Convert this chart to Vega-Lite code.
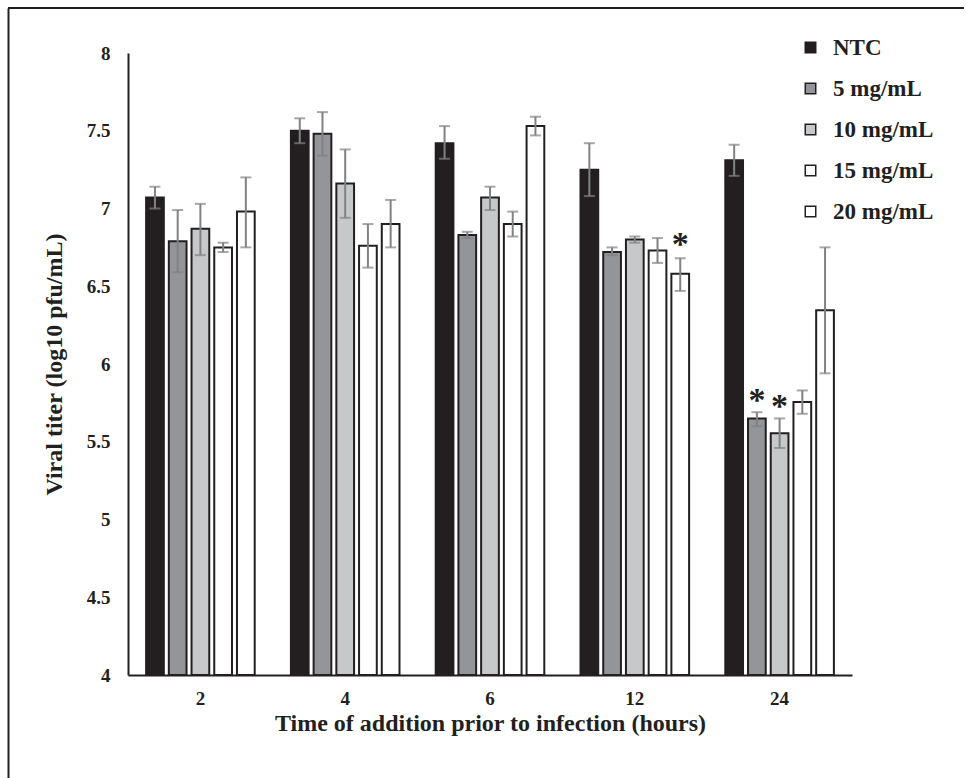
{
  "$schema": "https://vega.github.io/schema/vega-lite/v6.json",
  "autosize": "none",
  "padding": {"left": 8, "top": 8, "right": 2, "bottom": 0},
  "width": 956,
  "height": 770,
  "background": "white",
  "datasets": {
    "bars": [
      {"time": "2", "series": "NTC", "value": 7.07, "lo": 7.0, "hi": 7.14},
      {"time": "2", "series": "5 mg/mL", "value": 6.79, "lo": 6.59, "hi": 6.99},
      {"time": "2", "series": "10 mg/mL", "value": 6.87, "lo": 6.70, "hi": 7.03},
      {"time": "2", "series": "15 mg/mL", "value": 6.75, "lo": 6.72, "hi": 6.78},
      {"time": "2", "series": "20 mg/mL", "value": 6.98, "lo": 6.75, "hi": 7.20},
      {"time": "4", "series": "NTC", "value": 7.50, "lo": 7.42, "hi": 7.58},
      {"time": "4", "series": "5 mg/mL", "value": 7.48, "lo": 7.34, "hi": 7.62},
      {"time": "4", "series": "10 mg/mL", "value": 7.16, "lo": 6.94, "hi": 7.38},
      {"time": "4", "series": "15 mg/mL", "value": 6.76, "lo": 6.62, "hi": 6.90},
      {"time": "4", "series": "20 mg/mL", "value": 6.90, "lo": 6.75, "hi": 7.055},
      {"time": "6", "series": "NTC", "value": 7.42, "lo": 7.32, "hi": 7.53},
      {"time": "6", "series": "5 mg/mL", "value": 6.83, "lo": 6.81, "hi": 6.85},
      {"time": "6", "series": "10 mg/mL", "value": 7.07, "lo": 6.99, "hi": 7.14},
      {"time": "6", "series": "15 mg/mL", "value": 6.90, "lo": 6.82, "hi": 6.98},
      {"time": "6", "series": "20 mg/mL", "value": 7.53, "lo": 7.47, "hi": 7.59},
      {"time": "12", "series": "NTC", "value": 7.25, "lo": 7.08, "hi": 7.42},
      {"time": "12", "series": "5 mg/mL", "value": 6.72, "lo": 6.70, "hi": 6.75},
      {"time": "12", "series": "10 mg/mL", "value": 6.80, "lo": 6.78, "hi": 6.82},
      {"time": "12", "series": "15 mg/mL", "value": 6.73, "lo": 6.65, "hi": 6.81},
      {"time": "12", "series": "20 mg/mL", "value": 6.58, "lo": 6.47, "hi": 6.68},
      {"time": "24", "series": "NTC", "value": 7.31, "lo": 7.21, "hi": 7.41},
      {"time": "24", "series": "5 mg/mL", "value": 5.65, "lo": 5.60, "hi": 5.69},
      {"time": "24", "series": "10 mg/mL", "value": 5.555, "lo": 5.46, "hi": 5.65},
      {"time": "24", "series": "15 mg/mL", "value": 5.755, "lo": 5.68, "hi": 5.83},
      {"time": "24", "series": "20 mg/mL", "value": 6.345, "lo": 5.94, "hi": 6.75}
    ],
    "stars": [
      {"time": "12", "series": "20 mg/mL", "y": 6.81, "label": "*"},
      {"time": "24", "series": "5 mg/mL", "y": 5.81, "label": "*"},
      {"time": "24", "series": "10 mg/mL", "y": 5.77, "label": "*"}
    ],
    "frame": [{"edge": 1}]
  },
  "resolve": {"scale": {"y": "independent"}, "axis": {"y": "independent"}},
  "layer": [
    {
      "encoding": {
        "x": {
          "field": "time", "type": "nominal",
          "sort": ["2", "4", "6", "12", "24"],
          "scale": {"range": [120, 844], "paddingInner": 0.25, "paddingOuter": 0.125},
          "axis": {
            "title": "Time of addition prior to infection (hours)",
            "labelAngle": 0, "offset": -103, "ticks": false, "tickSize": 0,
            "labelPadding": 14, "titlePadding": 3,
            "labelFontSize": 19, "titleFontSize": 24
          }
        },
        "xOffset": {
          "field": "series", "type": "nominal",
          "sort": ["NTC", "5 mg/mL", "10 mg/mL", "15 mg/mL", "20 mg/mL"],
          "scale": {"paddingInner": 0.22, "paddingOuter": 0}
        }
      },
      "layer": [
        {
          "data": {"name": "bars"},
          "mark": {"type": "bar", "stroke": "#231f20", "strokeWidth": 2},
          "encoding": {
            "y": {
              "field": "value", "type": "quantitative",
              "scale": {"domain": [4, 8], "range": [667, 45], "zero": false, "nice": false},
              "axis": {
                "title": "Viral titer (log10 pfu/mL)",
                "values": [4, 4.5, 5, 5.5, 6, 6.5, 7, 7.5, 8],
                "format": "~g", "orient": "left",
                "offset": -120, "ticks": false, "tickSize": 0, "grid": false,
                "labelPadding": 18, "titlePadding": 20,
                "labelFontSize": 19, "titleFontSize": 24
              }
            },
            "y2": {"datum": 4},
            "color": {
              "field": "series", "type": "nominal",
              "sort": ["NTC", "5 mg/mL", "10 mg/mL", "15 mg/mL", "20 mg/mL"],
              "scale": {
                "domain": ["NTC", "5 mg/mL", "10 mg/mL", "15 mg/mL", "20 mg/mL"],
                "range": ["#231f20", "#939598", "#c7c8ca", "#ffffff", "#ffffff"]
              },
              "legend": {
                "title": null, "orient": "none", "legendX": 791, "legendY": 28,
                "symbolType": "square", "symbolSize": 110,
                "symbolStrokeColor": "#231f20", "symbolStrokeWidth": 1.5,
                "symbolOpacity": 1,
                "labelFontSize": 23, "labelOffset": 11, "rowPadding": 17
              }
            }
          }
        },
        {
          "data": {"name": "bars"},
          "mark": {"type": "rule", "color": "#808285", "strokeWidth": 2},
          "encoding": {
            "y": {"field": "lo", "type": "quantitative"},
            "y2": {"field": "hi"}
          }
        },
        {
          "data": {"name": "bars"},
          "mark": {"type": "tick", "color": "#808285", "thickness": 2, "size": 11, "orient": "horizontal"},
          "encoding": {
            "y": {"field": "lo", "type": "quantitative"}
          }
        },
        {
          "data": {"name": "bars"},
          "mark": {"type": "tick", "color": "#808285", "thickness": 2, "size": 11, "orient": "horizontal"},
          "encoding": {
            "y": {"field": "hi", "type": "quantitative"}
          }
        },
        {
          "data": {"name": "stars"},
          "mark": {"type": "text", "fontSize": 34, "fontWeight": "bold", "baseline": "middle", "color": "#231f20", "font": "Liberation Serif", "dy": 7},
          "encoding": {
            "y": {"field": "y", "type": "quantitative"},
            "text": {"field": "label"}
          }
        }
      ]
    },
    {
      "data": {"name": "frame"},
      "mark": {"type": "rule", "color": "#231f20", "strokeWidth": 2},
      "encoding": {
        "y": {
          "field": "edge", "type": "quantitative",
          "scale": {"domain": [0, 1], "range": [780, 0], "nice": false, "zero": false},
          "axis": {
            "orient": "left", "offset": 0, "title": null, "labels": false,
            "ticks": false, "grid": false, "domain": true,
            "domainColor": "#231f20", "domainWidth": 2
          }
        }
      }
    }
  ],
  "config": {
    "view": {"stroke": null},
    "font": "Liberation Serif",
    "axis": {
      "domainColor": "#231f20", "domainWidth": 2,
      "labelColor": "#231f20", "titleColor": "#231f20",
      "labelFont": "Liberation Serif", "titleFont": "Liberation Serif",
      "labelFontWeight": "bold", "titleFontWeight": "bold"
    },
    "legend": {
      "labelFont": "Liberation Serif", "labelFontWeight": "bold", "labelColor": "#231f20"
    }
  }
}
